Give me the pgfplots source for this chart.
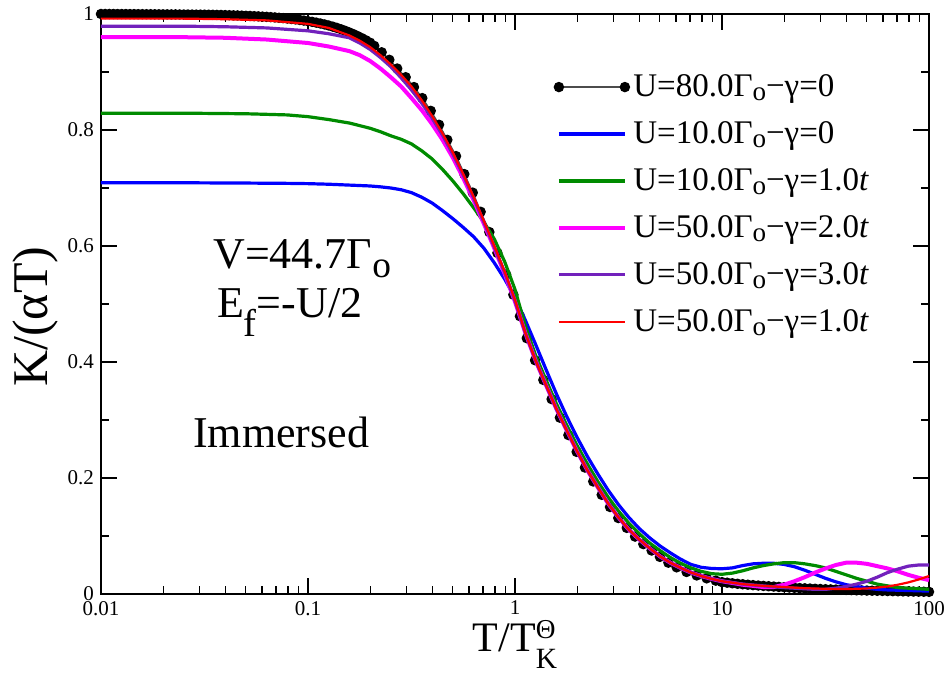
\documentclass[border=0pt]{standalone}
\usepackage{fontspec}
\setmainfont{Liberation Serif}
\usepackage{pgfplots}
\pgfplotsset{compat=1.18}
\definecolor{ggreen}{RGB}{0,139,0}
\definecolor{gviolet}{RGB}{114,33,188}
\definecolor{gmagenta}{RGB}{255,0,255}
\definecolor{gred}{RGB}{255,0,0}
\definecolor{gblue}{RGB}{0,0,255}
\pgfplotsset{legimg/.style={legend image code/.code={\draw[##1] plot coordinates {(0pt,0pt) (33pt,0pt)};}}}
% xmgrace-like subscripts: nearly full size, lowered
\newcommand{\Go}{Γ\raisebox{-0.12em}{\scalebox{0.82}{o}}}
\newcommand{\Gbig}{Γ\raisebox{-0.22em}{\scalebox{0.85}{o}}}

\begin{document}
\begin{tikzpicture}
\begin{axis}[
  scale only axis, width=414pt, height=290pt,
  xmode=log, xmin=0.01, xmax=100, ymin=0, ymax=1,
  xtick={0.01,0.1,1,10,100}, xticklabels={0.01,0.1,1,10,100},
  minor xtick={0.02,0.03,0.04,0.05,0.06,0.07,0.08,0.09,
               0.2,0.3,0.4,0.5,0.6,0.7,0.8,0.9,
               2,3,4,5,6,7,8,9,20,30,40,50,60,70,80,90},
  ytick={0,0.2,0.4,0.6,0.8,1}, yticklabels={0,0.2,0.4,0.6,0.8,1},
  minor ytick={0.1,0.3,0.5,0.7,0.9},
  major tick length=8pt, minor tick length=4pt,
  tick style={black, line width=0.6pt},
  axis line style={line width=1pt},
  tick label style={font=\fontsize{10.5}{12}\selectfont},
  ylabel={K/(αT)},
  xlabel={T/T\rlap{\raisebox{0.32em}{\scalebox{0.65}{Θ}}}\raisebox{-0.40em}{\scalebox{0.7}{K}}},
  ylabel style={at={(axis description cs:-0.0652,0.478)}, anchor=base, font=\fontsize{25}{28}\selectfont},
  xlabel style={at={(axis description cs:0.5,-0.0995)}, anchor=base, font=\fontsize{21}{24}\selectfont},
  clip=false, clip marker paths=true,
  legend style={at={(axis description cs:0.54,0.91)}, anchor=north west,
    draw=none, fill=none, font=\fontsize{16.5}{19}\selectfont, row sep=7pt},
  legend cell align=left,
  legimg,
]
% U=80, gamma=0 (dots)
\addplot[draw=black!70, line width=0.8pt, mark=*, mark size=2.2pt,
  mark options={fill=black, draw=black, solid}]
  table[x expr=10^(\thisrow{lx}), y=y] {
lx y
-2.00 1.0000
-1.98 1.0000
-1.96 1.0000
-1.94 1.0000
-1.92 0.9999
-1.90 0.9999
-1.88 0.9999
-1.86 0.9998
-1.84 0.9998
-1.82 0.9997
-1.80 0.9997
-1.78 0.9996
-1.76 0.9996
-1.74 0.9995
-1.72 0.9995
-1.70 0.9994
-1.68 0.9994
-1.66 0.9993
-1.64 0.9993
-1.62 0.9992
-1.60 0.9991
-1.58 0.9991
-1.56 0.9990
-1.54 0.9989
-1.52 0.9989
-1.50 0.9988
-1.48 0.9987
-1.46 0.9986
-1.44 0.9984
-1.42 0.9983
-1.40 0.9981
-1.38 0.9979
-1.36 0.9977
-1.34 0.9975
-1.32 0.9972
-1.30 0.9969
-1.28 0.9966
-1.26 0.9963
-1.24 0.9959
-1.22 0.9955
-1.20 0.9951
-1.18 0.9946
-1.16 0.9941
-1.14 0.9935
-1.12 0.9929
-1.10 0.9922
-1.08 0.9914
-1.06 0.9906
-1.04 0.9897
-1.02 0.9887
-1.00 0.9877
-0.98 0.9865
-0.96 0.9851
-0.94 0.9836
-0.92 0.9820
-0.90 0.9802
-0.88 0.9782
-0.86 0.9760
-0.84 0.9736
-0.82 0.9710
-0.80 0.9682
-0.78 0.9652
-0.76 0.9619
-0.74 0.9584
-0.72 0.9546
-0.70 0.9505
-0.68 0.9450
-0.644 0.934
-0.607 0.921
-0.569 0.906
-0.528 0.891
-0.488 0.874
-0.448 0.855
-0.407 0.833
-0.367 0.809
-0.327 0.783
-0.285 0.755
-0.245 0.724
-0.204 0.692
-0.166 0.659
-0.124 0.624
-0.085 0.588
-0.043 0.551
-0.008 0.516
0.024 0.479
0.057 0.441
0.097 0.403
0.137 0.369
0.177 0.336
0.217 0.304
0.258 0.274
0.298 0.245
0.338 0.218
0.378 0.194
0.419 0.171
0.459 0.150
0.499 0.131
0.540 0.114
0.580 0.099
0.620 0.086
0.660 0.075
0.700 0.064
0.741 0.054
0.781 0.046
0.829 0.038
0.878 0.032
0.926 0.027
0.970 0.023
1.000 0.0205
1.025 0.0195
1.050 0.0185
1.075 0.0176
1.100 0.0168
1.125 0.0160
1.150 0.0153
1.175 0.0146
1.200 0.0140
1.225 0.0134
1.250 0.0128
1.275 0.0122
1.300 0.0117
1.325 0.0112
1.350 0.0107
1.375 0.0102
1.400 0.0098
1.425 0.0094
1.450 0.0090
1.475 0.0086
1.500 0.0082
1.525 0.0079
1.550 0.0076
1.575 0.0073
1.600 0.0070
1.625 0.0067
1.650 0.0064
1.675 0.0062
1.700 0.0059
1.725 0.0057
1.750 0.0055
1.775 0.0053
1.800 0.0051
1.825 0.0049
1.850 0.0047
1.875 0.0045
1.900 0.0043
1.925 0.0042
1.950 0.0040
1.975 0.0039
2.000 0.0037
};
\addlegendentry{U=80.0\Go−γ=0}

% U=10, gamma=0
\addplot[gblue, line width=1.6pt] table[x expr=10^(\thisrow{lx}), y=y] {
lx y
-2.00 0.709
-1.60 0.709
-1.30 0.7085
-1.10 0.708
-1.00 0.7075
-0.90 0.7065
-0.80 0.705
-0.70 0.7035
-0.65 0.702
-0.60 0.700
-0.55 0.697
-0.50 0.692
-0.45 0.684
-0.40 0.674
-0.35 0.661
-0.30 0.647
-0.25 0.632
-0.20 0.616
-0.15 0.596
-0.10 0.571
-0.05 0.543
0.00 0.511
0.05 0.472
0.10 0.430
0.15 0.387
0.20 0.345
0.25 0.306
0.30 0.270
0.35 0.237
0.40 0.207
0.45 0.179
0.50 0.154
0.55 0.132
0.60 0.113
0.65 0.097
0.70 0.083
0.75 0.071
0.80 0.060
0.85 0.051
0.90 0.046
0.95 0.0440
1.00 0.0435
1.05 0.045
1.10 0.049
1.15 0.052
1.20 0.053
1.25 0.053
1.30 0.051
1.35 0.047
1.40 0.041
1.45 0.034
1.50 0.027
1.55 0.021
1.60 0.016
1.65 0.013
1.70 0.010
1.75 0.008
1.80 0.007
1.90 0.006
2.00 0.005
};
\addlegendentry{U=10.0\Go−γ=0}

% U=10, gamma=1.0t
\addplot[ggreen, line width=1.6pt] table[x expr=10^(\thisrow{lx}), y=y] {
lx y
-2.00 0.829
-1.60 0.829
-1.30 0.828
-1.10 0.826
-1.00 0.823
-0.90 0.818
-0.80 0.812
-0.70 0.803
-0.65 0.797
-0.60 0.790
-0.55 0.784
-0.50 0.776
-0.45 0.764
-0.40 0.750
-0.35 0.732
-0.30 0.712
-0.25 0.690
-0.20 0.666
-0.15 0.641
-0.10 0.612
-0.05 0.573
0.00 0.525
0.05 0.462
0.10 0.411
0.15 0.369
0.20 0.328
0.25 0.291
0.30 0.256
0.35 0.224
0.40 0.194
0.45 0.167
0.50 0.143
0.55 0.122
0.60 0.104
0.65 0.088
0.70 0.075
0.75 0.063
0.80 0.053
0.85 0.045
0.90 0.039
0.95 0.035
1.00 0.034
1.05 0.036
1.10 0.040
1.15 0.045
1.20 0.049
1.25 0.052
1.30 0.054
1.35 0.054
1.40 0.052
1.45 0.049
1.50 0.045
1.55 0.039
1.60 0.033
1.65 0.027
1.70 0.022
1.75 0.017
1.80 0.014
1.85 0.011
1.90 0.010
1.95 0.009
2.00 0.008
};
\addlegendentry{U=10.0\Go−γ=1.0\textit{t}}

% U=50, gamma=2.0t
\addplot[gmagenta, line width=2pt] table[x expr=10^(\thisrow{lx}), y=y] {
lx y
-2.00 0.960
-1.60 0.960
-1.40 0.959
-1.20 0.956
-1.00 0.950
-0.90 0.944
-0.80 0.936
-0.75 0.929
-0.70 0.919
-0.65 0.906
-0.60 0.891
-0.55 0.875
-0.50 0.855
-0.45 0.834
-0.40 0.810
-0.35 0.783
-0.30 0.752
-0.25 0.717
-0.20 0.679
-0.15 0.638
-0.10 0.596
-0.05 0.552
0.00 0.504
0.05 0.450
0.10 0.402
0.15 0.360
0.20 0.319
0.25 0.282
0.30 0.246
0.35 0.213
0.40 0.184
0.45 0.156
0.50 0.132
0.55 0.111
0.60 0.094
0.65 0.079
0.70 0.065
0.75 0.054
0.80 0.045
0.85 0.037
0.90 0.031
0.95 0.026
1.00 0.022
1.05 0.019
1.10 0.016
1.15 0.014
1.20 0.012
1.25 0.012
1.30 0.016
1.35 0.022
1.40 0.029
1.45 0.037
1.50 0.044
1.55 0.050
1.60 0.054
1.65 0.054
1.70 0.052
1.75 0.048
1.80 0.044
1.85 0.039
1.90 0.033
1.95 0.028
2.00 0.024
};
\addlegendentry{U=50.0\Go−γ=2.0\textit{t}}

% U=50, gamma=3.0t
\addplot[gviolet, line width=1.6pt] table[x expr=10^(\thisrow{lx}), y=y] {
lx y
-2.00 0.979
-1.60 0.979
-1.40 0.978
-1.20 0.976
-1.00 0.971
-0.90 0.966
-0.80 0.959
-0.75 0.950
-0.70 0.939
-0.65 0.925
-0.60 0.909
-0.55 0.890
-0.50 0.869
-0.45 0.846
-0.40 0.820
-0.35 0.791
-0.30 0.758
-0.25 0.722
-0.20 0.683
-0.15 0.641
-0.10 0.598
-0.05 0.554
0.00 0.505
0.05 0.450
0.10 0.402
0.15 0.360
0.20 0.319
0.25 0.282
0.30 0.246
0.35 0.213
0.40 0.184
0.45 0.156
0.50 0.132
0.55 0.111
0.60 0.094
0.65 0.079
0.70 0.065
0.75 0.054
0.80 0.045
0.85 0.037
0.90 0.031
0.95 0.026
1.00 0.022
1.10 0.017
1.20 0.014
1.30 0.011
1.40 0.009
1.45 0.008
1.50 0.008
1.55 0.010
1.60 0.013
1.65 0.017
1.70 0.022
1.75 0.029
1.80 0.037
1.85 0.043
1.90 0.048
1.95 0.050
2.00 0.050
};
\addlegendentry{U=50.0\Go−γ=3.0\textit{t}}

% U=50, gamma=1.0t
\addplot[gred, line width=1.1pt] table[x expr=10^(\thisrow{lx}), y=y] {
lx y
-2.00 0.992
-1.60 0.992
-1.40 0.991
-1.20 0.989
-1.00 0.983
-0.90 0.976
-0.80 0.963
-0.75 0.954
-0.70 0.943
-0.65 0.929
-0.60 0.913
-0.55 0.895
-0.50 0.875
-0.45 0.851
-0.40 0.824
-0.35 0.794
-0.30 0.761
-0.25 0.724
-0.20 0.685
-0.15 0.643
-0.10 0.600
-0.05 0.556
0.00 0.507
0.05 0.450
0.10 0.402
0.15 0.360
0.20 0.319
0.25 0.282
0.30 0.246
0.35 0.213
0.40 0.184
0.45 0.156
0.50 0.132
0.55 0.111
0.60 0.094
0.65 0.079
0.70 0.065
0.75 0.054
0.80 0.045
0.85 0.037
0.90 0.031
0.95 0.026
1.00 0.022
1.10 0.017
1.20 0.014
1.30 0.012
1.40 0.010
1.50 0.009
1.60 0.0085
1.65 0.009
1.70 0.0095
1.75 0.011
1.80 0.013
1.85 0.016
1.90 0.020
1.95 0.025
2.00 0.031
};
\addlegendentry{U=50.0\Go−γ=1.0\textit{t}}

\node[anchor=base west, inner sep=0pt, font=\fontsize{22}{26}\selectfont] at (axis cs:0.0347,0.562) {V=44.7\Gbig};
\node[anchor=base west, inner sep=0pt, font=\fontsize{22}{26}\selectfont] at (axis cs:0.0362,0.476) {E\raisebox{-0.42em}{\scalebox{0.88}{f}}=-U/2};
\node[anchor=base west, inner sep=0pt, font=\fontsize{22}{26}\selectfont] at (axis cs:0.0278,0.252) {Immersed};
\end{axis}
\pgfresetboundingbox
\useasboundingbox (current axis.south west) ++(-50.5pt,-40.5pt) rectangle ++(474.5pt,337.5pt);
\end{tikzpicture}
\end{document}
